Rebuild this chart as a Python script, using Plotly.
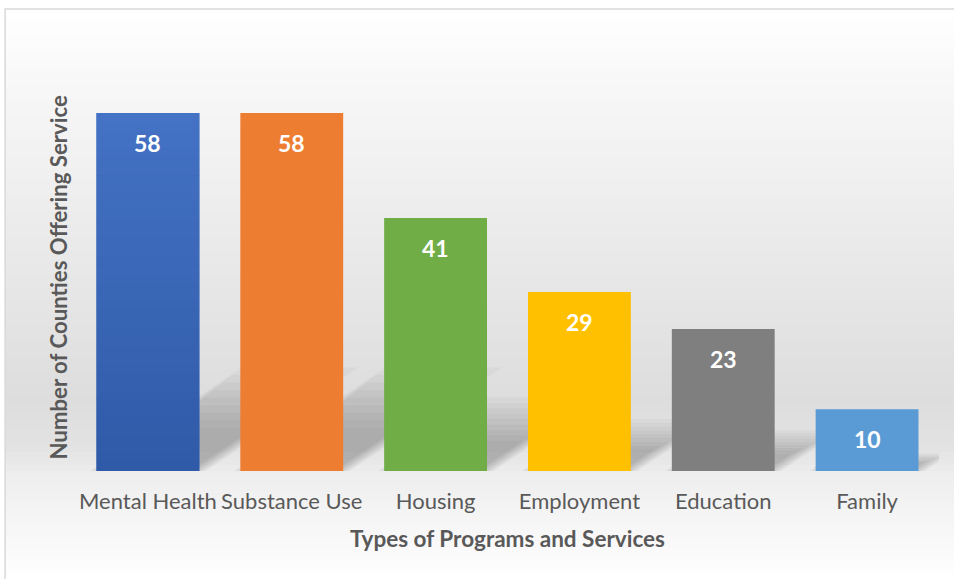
import plotly.graph_objects as go

categories = ["Mental Health", "Substance Use", "Housing", "Employment", "Education", "Family"]
values = [58, 58, 41, 29, 23, 10]
colors = ["#3b67b9", "#ed7d31", "#70ad47", "#ffc000", "#7f7f7f", "#5b9bd5"]
x_title = "Types of Programs and Services"
y_title = "Number of Counties Offering Service"

W, H = 954, 579
ML, MR, MT, MB = 75.5, 14.5, 85, 108
PW, PH = W - ML - MR, H - MT - MB
YMAX = 62.54
BARW = 0.715
FONT = "Lato"
TXT = "#595959"

xs = list(range(len(categories)))

def px2paper(px, py):
    return (px - ML) / PW, (H - MB - py) / PH

def hexrgb(h):
    h = h.lstrip("#")
    return tuple(int(h[i:i + 2], 16) for i in (0, 2, 4))

def lerp(c0, c1, t):
    a, b = hexrgb(c0), hexrgb(c1)
    return "rgb(%d,%d,%d)" % tuple(round(a[i] + (b[i] - a[i]) * t) for i in range(3))

shapes = []
# background gradient (vertical)
stops = [(9, "#ffffff"), (100, "#f6f6f6"), (220, "#ececec"), (330, "#e3e3e3"),
         (400, "#dddddd"), (450, "#e3e3e3"), (475, "#eeeeee"), (520, "#f5f5f5"), (579, "#ffffff")]
N = 90
top, bot = 9, 579
for k in range(N):
    y0 = top + (bot - top) * k / N
    y1 = top + (bot - top) * (k + 1) / N + 0.6
    ym = (y0 + y1) / 2
    for j in range(len(stops) - 1):
        if stops[j][0] <= ym <= stops[j + 1][0]:
            t = (ym - stops[j][0]) / (stops[j + 1][0] - stops[j][0])
            col = lerp(stops[j][1], stops[j + 1][1], t)
            break
    xa, ya = px2paper(4.5, y0)
    xb, yb = px2paper(W + 5, y1)
    shapes.append(dict(type="rect", xref="paper", yref="paper", x0=xa, x1=xb, y0=ya, y1=yb,
                       fillcolor=col, line=dict(width=0), layer="below"))
# border
xa, ya = px2paper(4.5, 9)
xb, yb = px2paper(W + 5, H + 5)
shapes.append(dict(type="rect", xref="paper", yref="paper", x0=xa, x1=xb, y0=ya, y1=yb,
                   line=dict(color="#d9d9d9", width=1.5), fillcolor="rgba(0,0,0,0)", layer="below"))

# soft perspective shadows (layered to fake blur)
xu = len(categories) / PW   # data units per px in x
yu = YMAX / PH              # data units per px in y
SLOPE = 0.68                # dy/dx of shadow edges in px
NL = 9
for i, v in enumerate(values):
    hpx = v / yu
    for k in range(NL):
        f = k / (NL - 1)
        frac = 0.29 - 0.17 * f
        inset = -7 + 16 * f
        hh = hpx * frac
        dx = hh / SLOPE
        x0 = i - BARW / 2 + inset * xu
        x1 = i + BARW / 2 - inset * xu
        path = "M %f,0 L %f,0 L %f,%f L %f,%f Z" % (
            x0, x1, x1 + dx * xu, hh * yu, x0 + dx * xu, hh * yu)
        shapes.append(dict(type="path", xref="x", yref="y", path=path,
                           fillcolor="rgba(0,0,0,0.027)", line=dict(width=0), layer="below"))

# subtle vertical gradient on the first bar (as in the reference)
NG = 40
v0 = values[0]
for k in range(NG):
    ya0 = v0 * k / NG
    ya1 = v0 * (k + 1) / NG + 0.05
    shapes.append(dict(type="rect", xref="x", yref="y", x0=-BARW / 2, x1=BARW / 2,
                       y0=ya0, y1=min(ya1, v0), fillcolor=lerp("#2f5aa8", "#4472c4", (k + 0.5) / NG),
                       line=dict(width=0), layer="above"))

fig = go.Figure(go.Bar(x=xs, y=values, width=BARW, marker=dict(color=colors, line=dict(width=0)),
                       hoverinfo="skip"))

annotations = []
for i, v in enumerate(values):
    annotations.append(dict(x=i, y=v, xref="x", yref="y", text=str(v), showarrow=False,
                            yshift=-30, font=dict(family=FONT, size=23, color="white", weight="bold")))
tx, ty = px2paper(507.5, 538)
annotations.append(dict(x=tx, y=ty, xref="paper", yref="paper", text="<b>%s</b>" % x_title,
                        xanchor="center", yanchor="middle",
                        showarrow=False, font=dict(family=FONT, size=22.5, color=TXT)))
tx, ty = px2paper(57, 278)
annotations.append(dict(x=tx, y=ty, xref="paper", yref="paper", text="<b>%s</b>" % y_title,
                        xanchor="center", yanchor="middle",
                        showarrow=False, textangle=-90, font=dict(family=FONT, size=22.2, color=TXT)))

fig.update_layout(
    width=W, height=H,
    margin=dict(l=ML, r=MR, t=MT, b=MB),
    paper_bgcolor="white", plot_bgcolor="rgba(0,0,0,0)",
    showlegend=False,
    shapes=shapes, annotations=annotations,
    xaxis=dict(range=[-0.5, len(categories) - 0.5], tickvals=xs, ticktext=categories, tickangle=0,
               showgrid=False, zeroline=False, showline=False, ticks="",
               tickfont=dict(family=FONT, size=22, color=TXT), ticklabelstandoff=15, fixedrange=True),
    yaxis=dict(range=[0, YMAX], visible=False, fixedrange=True),
)

fig.write_html("out.html")
